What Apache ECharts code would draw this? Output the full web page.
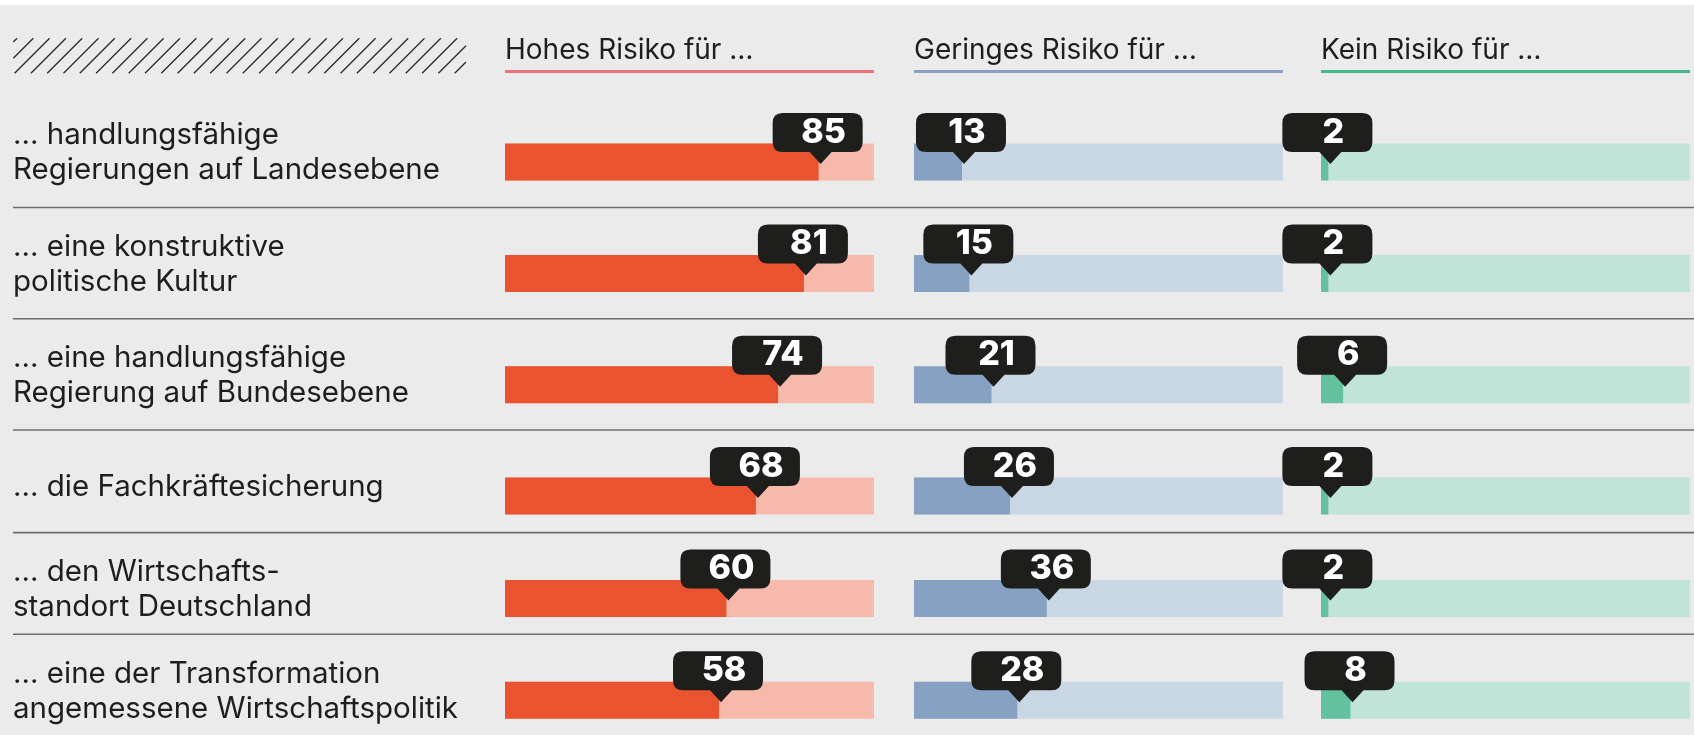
<!DOCTYPE html>
<html>
<head>
<meta charset="utf-8">
<script src="https://cdn.jsdelivr.net/npm/echarts@6/dist/echarts.min.js"></script>
<style>
  html, body { margin: 0; padding: 0; background: #fff; }
  #chart { width: 1694px; height: 735px; }
</style>
</head>
<body>
<div id="chart"></div>
<script>
const categories = [
  '… handlungsfähige\nRegierungen auf Landesebene',
  '… eine konstruktive\npolitische Kultur',
  '… eine handlungsfähige\nRegierung auf Bundesebene',
  '… die Fachkräftesicherung',
  '… den Wirtschafts-\nstandort Deutschland',
  '… eine der Transformation\nangemessene Wirtschaftspolitik'
]
const seriesNames = ['Hohes Risiko für …', 'Geringes Risiko für …', 'Kein Risiko für …']
const hohesRisiko = [85, 81, 74, 68, 60, 58]
const geringesRisiko = [13, 15, 21, 26, 36, 28]
const keinRisiko = [2, 2, 6, 2, 2, 8]

const FONT = 'Inter, "Open Sans", sans-serif'
const TEXT = '#1e1e1e'

// layout
const columns = [
  { values: hohesRisiko, left: 505, dark: '#e9532f', light: '#f7b9aa', line: '#ef717a' },
  { values: geringesRisiko, left: 914, dark: '#87a1c2', light: '#c9d6e4', line: '#88a1c3' },
  { values: keinRisiko, left: 1321, dark: '#63c1a0', light: '#c0e4d8', line: '#47b78c' }
]
const colWidth = 369
const rowEdges = [96, 207.5, 318.7, 430, 532.6, 634.3, 735]
const barOffset = 47.5
const barHeight = 37
const calloutPath = 'path://M10,0 L80,0 Q90,0 90,10 L90,29 Q90,39 80,39 L59,39 L48,51 L37,39 L10,39 Q0,39 0,29 L0,10 Q0,0 10,0 Z'

const grids = []
const xAxes = []
const yAxes = []
const series = []

// category text sits a little above the bar centre: trailing spacer line
function formatCategory(v) {
  return v.split('\n').map(s => '{t|' + s + '}').join('\n') + '\n{sp| }'
}

categories.forEach((cat, r) => {
  columns.forEach((col, c) => {
    const idx = r * 3 + c
    grids.push({
      left: col.left,
      width: colWidth,
      top: rowEdges[r] + barOffset,
      height: barHeight,
      containLabel: false,
      outerBoundsMode: 'none'
    })
    xAxes.push({ gridIndex: idx, type: 'value', min: 0, max: 100, show: false })
    yAxes.push({
      gridIndex: idx,
      type: 'category',
      data: [cat],
      show: c === 0,
      axisLine: { show: false },
      axisTick: { show: false },
      splitLine: { show: false },
      axisLabel: {
        show: c === 0,
        align: 'left',
        margin: col.left - 13,
        formatter: formatCategory,
        rich: {
          t: { fontFamily: FONT, fontSize: 29.5, lineHeight: 35, color: TEXT, align: 'left' },
          sp: { fontSize: 1, lineHeight: 18 }
        }
      }
    })
    series.push({
      type: 'bar',
      name: seriesNames[c],
      xAxisIndex: idx,
      yAxisIndex: idx,
      data: [col.values[r]],
      barWidth: '100%',
      itemStyle: { color: col.dark },
      showBackground: true,
      backgroundStyle: { color: col.light },
      markPoint: {
        symbol: calloutPath,
        symbolSize: [90, 51],
        symbolOffset: [-1, -23.5],
        itemStyle: { color: '#1e1e1c' },
        label: {
          show: true,
          offset: [6, -6],
          color: '#fff',
          fontFamily: FONT,
          fontSize: 34,
          fontWeight: 800
        },
        data: [{ coord: [col.values[r], 0], value: col.values[r] }]
      }
    })
  })
})

const graphics = [
  { type: 'rect', shape: { x: 0, y: 0, width: 1694, height: 5 }, style: { fill: '#fff' } }
]

// hatched box top left
const hL = 13.3, hR = 466, hTop = 38.3, hBottom = 73.3
const hH = hBottom - hTop
for (let k = -3; k < 32; k++) {
  const bx = 33.3 + 16.3 * k - hH
  const t0 = Math.max(0, (hL - bx) / hH)
  const t1 = Math.min(1, (hR - bx) / hH)
  if (t1 <= t0) continue
  graphics.push({
    type: 'line',
    shape: { x1: bx + hH * t0, y1: hBottom - hH * t0, x2: bx + hH * t1, y2: hBottom - hH * t1 },
    style: { stroke: '#2a2a2a', lineWidth: 1.3 }
  })
}

columns.forEach((col, c) => {
  graphics.push({
    type: 'text',
    x: col.left,
    y: 51,
    style: { text: seriesNames[c], fill: TEXT, font: '28px ' + FONT, verticalAlign: 'middle' }
  })
  graphics.push({
    type: 'rect',
    shape: { x: col.left, y: 70, width: colWidth, height: 3 },
    style: { fill: col.line }
  })
})

rowEdges.slice(1, -1).forEach(y => {
  graphics.push({
    type: 'line',
    shape: { x1: 13, y1: y, x2: 1694, y2: y },
    style: { stroke: '#6e6e6e', lineWidth: 1.6 }
  })
})

const chart = echarts.init(document.getElementById('chart'))
chart.setOption({
  backgroundColor: '#ebebeb',
  animation: false,
  grid: grids,
  xAxis: xAxes,
  yAxis: yAxes,
  series: series,
  graphic: graphics
})
</script>
</body>
</html>
